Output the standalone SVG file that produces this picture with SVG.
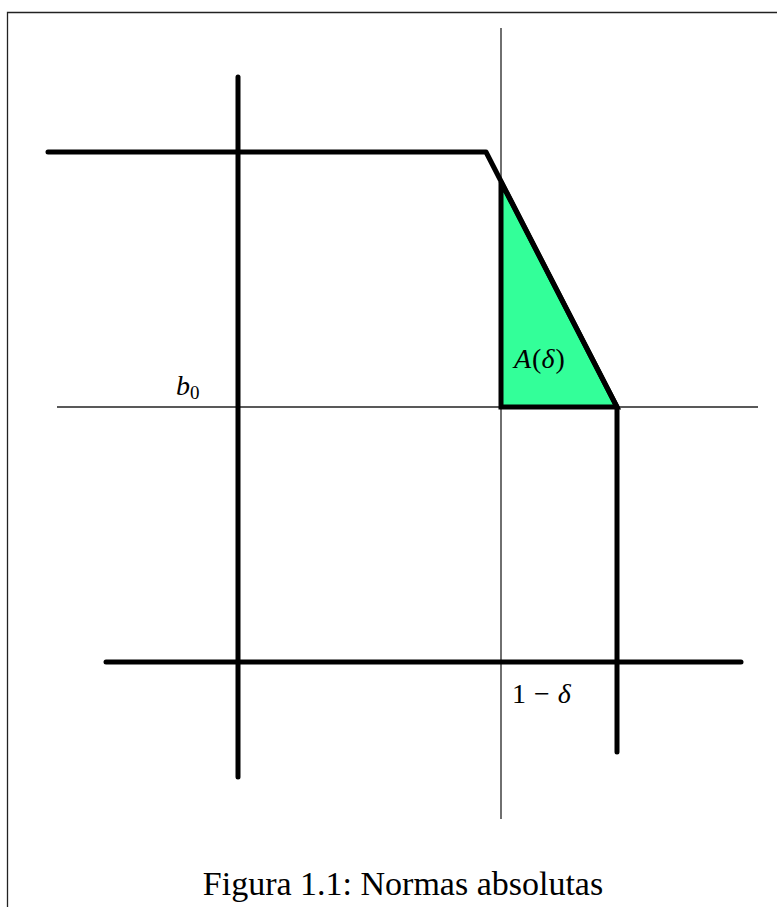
<svg xmlns="http://www.w3.org/2000/svg" width="777" height="907" viewBox="0 0 777 907">
<style>
.frame{fill:none;stroke:#222;stroke-width:1.3}
.thin{stroke:#222;stroke-width:1.3;fill:none}
.thick{stroke:#000;stroke-width:5;stroke-linecap:round;stroke-linejoin:round;fill:none}
.math{font-family:"Liberation Serif",serif;font-style:italic;font-size:28px;fill:#000}
.rm{font-family:"Liberation Serif",serif;font-size:28px;fill:#000}
.cap{font-family:"Liberation Serif",serif;font-size:34px;fill:#000}
</style>
<rect width="777" height="907" fill="#fff"/>
<path class="frame" d="M7.5,907 V12.5 H777"/>
<g id="axes">
<line class="thin" x1="501" y1="28" x2="501" y2="819"/>
<line class="thin" x1="57" y1="407" x2="758" y2="407"/>
</g>
<g id="region">
<polygon points="501,182 501,407 617,407" fill="#33FF99" stroke="#000" stroke-width="5" stroke-linejoin="miter"/>
</g>
<g id="connectors">
<line class="thick" x1="238" y1="77" x2="238" y2="777"/>
<polyline class="thick" points="48,152 486,152 617,407 617,752"/>
<line class="thick" x1="106" y1="662" x2="741" y2="662"/>
</g>
<g id="labels">
<text class="math" x="176" y="395">b<tspan font-style="normal" font-size="19" dy="4">0</tspan></text>
<text class="math" x="514" y="368">A<tspan font-style="normal" dx="1">(</tspan>δ<tspan font-style="normal" dx="1">)</tspan></text>
<text class="rm" x="512" y="703">1<tspan dx="8">−</tspan><tspan dx="8" font-style="italic">δ</tspan></text>
</g>
<text class="cap" x="403" y="895" text-anchor="middle">Figura 1.1: Normas absolutas</text>
</svg>
